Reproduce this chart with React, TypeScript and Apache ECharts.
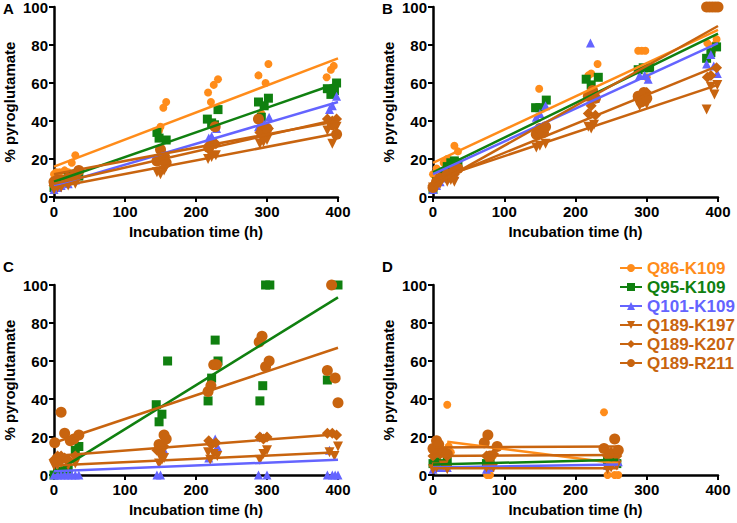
import React, { useEffect, useRef } from "react";
import * as echarts from "echarts";

const names = ["Q86-K109", "Q95-K109", "Q101-K109", "Q189-K197", "Q189-K207", "Q189-R211"];
const colors = ["#FF8C1A", "#108010", "#6464FF", "#C8640F", "#C8640F", "#C8640F"];
const symbols = ["circle", "rect", "triangle", "triangle", "diamond", "circle"];
const rotations = [0, 0, 0, 180, 0, 0];
const sizes = [8, 9, 9, 10, 11, 11];

const panelLabels = ["A", "B", "C", "D"];
const xAxisTitle = "Incubation time (h)";
const yAxisTitle = "% pyroglutamate";

// Panel A
const aQ86 = [[0,12],[3,13],[8,13],[15,14],[20,13],[25,18],[30,22],[35,13],[148,35],[150,37],[154,47],[158,50],[217,55],[221,50],[225,59],[231,62],[288,64],[292,44],[298,60],[302,70],[384,63],[390,67],[394,69],[398,60]];
const aQ95 = [[0,5],[5,8],[10,9],[20,11],[30,12],[35,11],[145,34],[148,31],[158,30],[216,41],[222,39],[226,38],[231,46],[288,50],[292,42],[296,48],[302,52],[385,57],[390,54],[395,56],[398,60]];
const aQ101 = [[0,4],[5,5],[10,6],[20,7],[30,9],[150,24],[155,22],[218,31],[222,32],[229,36],[288,37],[295,39],[303,42],[388,46],[392,48],[398,53]];
const aK197 = [[0,4],[5,5],[10,5],[20,6],[30,7],[145,13],[150,12],[155,14],[158,16],[217,20],[222,21],[228,22],[290,28],[295,29],[300,30],[385,35],[392,28],[398,37]];
const aK207 = [[0,6],[5,7],[10,7],[20,8],[30,9],[148,20],[152,19],[156,22],[218,26],[222,27],[228,28],[290,34],[296,35],[302,36],[385,41],[392,40],[398,41]];
const aR211 = [[0,8],[5,9],[10,9],[20,10],[30,12],[35,14],[145,19],[150,25],[155,21],[158,18],[218,26],[222,28],[227,37],[288,41],[293,35],[300,36],[392,38],[398,33]];
const aFits = [[0,16,400,73],[0,8,400,60],[0,6,400,50],[0,5,400,33.5],[0,7,400,41],[0,12,400,40]];

// Panel B
const bQ86 = [[0,12],[5,15],[15,18],[20,20],[30,27],[35,24],[149,57],[152,47],[218,64],[222,65],[225,56],[231,70],[288,77],[293,77],[298,77],[300,63],[385,81],[392,77],[395,80],[398,83]];
const bQ95 = [[0,4],[5,8],[15,13],[20,16],[25,18],[30,19],[35,18],[144,47],[150,47],[159,51],[215,62],[222,59],[232,63],[288,67],[295,68],[304,68],[384,73],[390,76],[398,79]];
const bQ101 = [[0,4],[5,6],[10,8],[20,10],[30,12],[145,42],[150,44],[158,48],[221,81],[225,55],[228,52],[290,64],[297,64],[302,62],[384,70],[390,75],[394,69],[399,65]];
const bK197 = [[0,5],[5,6],[10,7],[20,8],[25,9],[30,8],[145,26],[150,27],[158,28],[218,37],[222,36],[226,38],[290,48],[295,50],[300,49],[384,46],[390,58],[395,54],[399,59]];
const bK207 = [[0,6],[5,7],[10,9],[20,10],[30,12],[145,33],[150,35],[155,34],[218,44],[222,48],[228,43],[288,52],[295,54],[300,55],[385,63],[390,64],[398,68]];
const bR211 = [[0,5],[5,8],[10,10],[20,12],[30,14],[35,15],[145,33],[150,36],[155,34],[158,37],[218,53],[224,56],[228,52],[288,53],[292,50],[296,55],[300,52],[384,100],[388,100],[392,100],[396,100],[400,100]];
const bFits = [[0,18,400,88],[0,13,400,86],[0,12,400,81],[0,9,400,59],[0,8,400,69],[0,6,400,90]];

// Panel C
const cQ86: number[][] = [];
const cQ95 = [[0,0],[5,1],[10,2],[20,3],[30,13],[35,15],[144,37],[148,28],[152,32],[160,60],[217,39],[222,51],[227,71],[231,60],[290,39],[294,47],[298,100],[304,100],[385,50],[400,100]];
const cQ101 = [[0,0],[5,0],[10,0],[15,0],[20,0],[25,0],[30,0],[35,0],[145,0],[150,0],[155,13],[218,9],[227,19],[230,15],[288,0],[292,20],[300,0],[385,0],[388,13],[392,0],[396,0],[400,0]];
const cK197 = [[0,5],[5,5],[10,6],[20,5],[30,6],[148,6],[152,8],[155,9],[217,12],[220,8],[225,11],[230,10],[290,8],[295,11],[300,13],[388,12],[395,10],[400,15]];
const cK207 = [[0,8],[5,10],[10,10],[15,9],[20,8],[30,10],[145,13],[150,12],[155,15],[218,18],[222,16],[228,17],[290,20],[295,19],[300,20],[385,22],[392,22],[398,21]];
const cR211 = [[1,17],[10,33],[15,22],[23,18],[28,19],[35,21],[148,16],[155,21],[158,19],[217,44],[221,47],[225,58],[229,58],[289,70],[293,73],[298,57],[303,60],[385,55],[391,100],[396,51],[400,38]];
const cFits = [null,[0,1,400,93.5],[0,2,400,8],[0,5,400,12],[0,10,400,21.5],[0,17,400,67]];

// Panel D
const dQ86 = [[20,37],[22,15],[25,12],[76,0],[80,0],[84,10],[240,33],[245,0],[250,5],[255,0],[260,0]];
const dQ95 = [[0,6],[5,7],[10,6],[20,7],[75,6],[80,7],[245,8],[250,7],[258,6]];
const dQ101 = [[0,3],[5,4],[10,4],[20,4],[75,3],[80,4],[245,5],[255,6],[260,7]];
const dK197 = [[0,3],[5,4],[15,5],[20,3],[75,4],[80,5],[85,4],[245,3],[250,4],[258,5]];
const dK207 = [[0,10],[5,12],[10,11],[20,10],[75,10],[80,9],[85,11],[245,10],[250,12],[258,10]];
const dR211 = [[0,14],[5,18],[8,16],[15,12],[20,11],[72,17],[77,21],[80,10],[90,15],[240,14],[248,11],[255,19],[260,13]];
const dFits = [[20,17.5,260,6],[0,5.5,260,8],[0,4,260,5.5],[0,3.5,260,3.5],[0,10,260,10.5],[0,14.5,260,15]];

const panelPoints = [
  [aQ86, aQ95, aQ101, aK197, aK207, aR211],
  [bQ86, bQ95, bQ101, bK197, bK207, bR211],
  [cQ86, cQ95, cQ101, cK197, cK207, cR211],
  [dQ86, dQ95, dQ101, dK197, dK207, dR211],
];
const panelFits = [aFits, bFits, cFits, dFits];

const FONT = "'Liberation Sans', Arial, Helvetica, sans-serif";

const gridRects = [
  { left: 54, top: 7, width: 284, height: 190 },
  { left: 433, top: 7, width: 285, height: 190 },
  { left: 54, top: 285, width: 284, height: 190 },
  { left: 433, top: 285, width: 285, height: 190 },
];
const letterPos = [
  { left: 3, top: 1 },
  { left: 382, top: 1 },
  { left: 3, top: 259 },
  { left: 382, top: 259 },
];

export default function App() {
  const ref = useRef<HTMLDivElement>(null);
  useEffect(() => {
    if (!ref.current) return;
    const chart = echarts.init(ref.current, undefined, { renderer: "svg" });
    const axisCommon = {
      axisLine: { show: true, onZero: false, lineStyle: { color: "#000", width: 2.5 } },
      axisTick: { show: true, inside: false, length: 5, lineStyle: { color: "#000", width: 2 } },
      splitLine: { show: false },
      nameLocation: "middle",
      nameTextStyle: { color: "#000", fontSize: 15, fontWeight: "bold", fontFamily: FONT },
    };
    const grids = gridRects.map((g) => ({ ...g, containLabel: false, outerBoundsMode: "none" }));
    const xAxes = gridRects.map((_, i) => ({
      ...axisCommon,
      type: "value",
      gridIndex: i,
      min: 0,
      max: 400,
      interval: 100,
      name: xAxisTitle,
      nameGap: 27,
      axisLabel: { color: "#000", fontSize: 15, fontWeight: "bold", fontFamily: FONT, margin: 7 },
    }));
    const yAxes = gridRects.map((_, i) => ({
      ...axisCommon,
      type: "value",
      gridIndex: i,
      min: 0,
      max: 100,
      interval: 20,
      name: yAxisTitle,
      nameGap: 37,
      axisLabel: { color: "#000", fontSize: 15, fontWeight: "bold", fontFamily: FONT, margin: 6 },
    }));

    const series: any[] = [];
    panelFits.forEach((fits, p) => {
      fits.forEach((f, k) => {
        if (!f) return;
        series.push({
          type: "line",
          name: names[k],
          xAxisIndex: p,
          yAxisIndex: p,
          data: [[f[0], f[1]], [f[2], f[3]]],
          showSymbol: false,
          symbol: symbols[k],
          symbolRotate: rotations[k],
          symbolSize: sizes[k],
          lineStyle: { color: colors[k], width: 2.5 },
          itemStyle: { color: colors[k] },
          z: 4,
          silent: true,
        });
      });
    });
    panelPoints.forEach((pts, p) => {
      pts.forEach((d, k) => {
        series.push({
          type: "scatter",
          name: names[k],
          xAxisIndex: p,
          yAxisIndex: p,
          data: d,
          symbol: symbols[k],
          symbolRotate: rotations[k],
          symbolSize: sizes[k],
          itemStyle: { color: colors[k], opacity: 1 },
          clip: false,
          z: 3,
          silent: true,
        });
      });
    });

    chart.setOption({
      animation: false,
      backgroundColor: "#fff",
      textStyle: { fontFamily: FONT },
      grid: grids,
      xAxis: xAxes,
      yAxis: yAxes,
      legend: {
        orient: "vertical",
        left: 619,
        top: 259,
        itemWidth: 22,
        itemHeight: 10,
        itemGap: 1,
        selectedMode: false,
        padding: 0,
        data: names.map((n, i) => ({ name: n, textStyle: { color: colors[i] } })),
        textStyle: { fontSize: 17, fontWeight: "bold", fontFamily: FONT, lineHeight: 18 },
      },
      graphic: panelLabels.map((t, i) => ({
        type: "text",
        left: letterPos[i].left,
        top: letterPos[i].top,
        style: { text: t, fill: "#000", font: `bold 15px ${FONT}` },
      })),
      series,
    });
    return () => chart.dispose();
  }, []);
  return (
    <div
      ref={ref}
      style={{ position: "fixed", left: 0, top: 0, width: 737, height: 523, background: "#fff" }}
    />
  );
}
